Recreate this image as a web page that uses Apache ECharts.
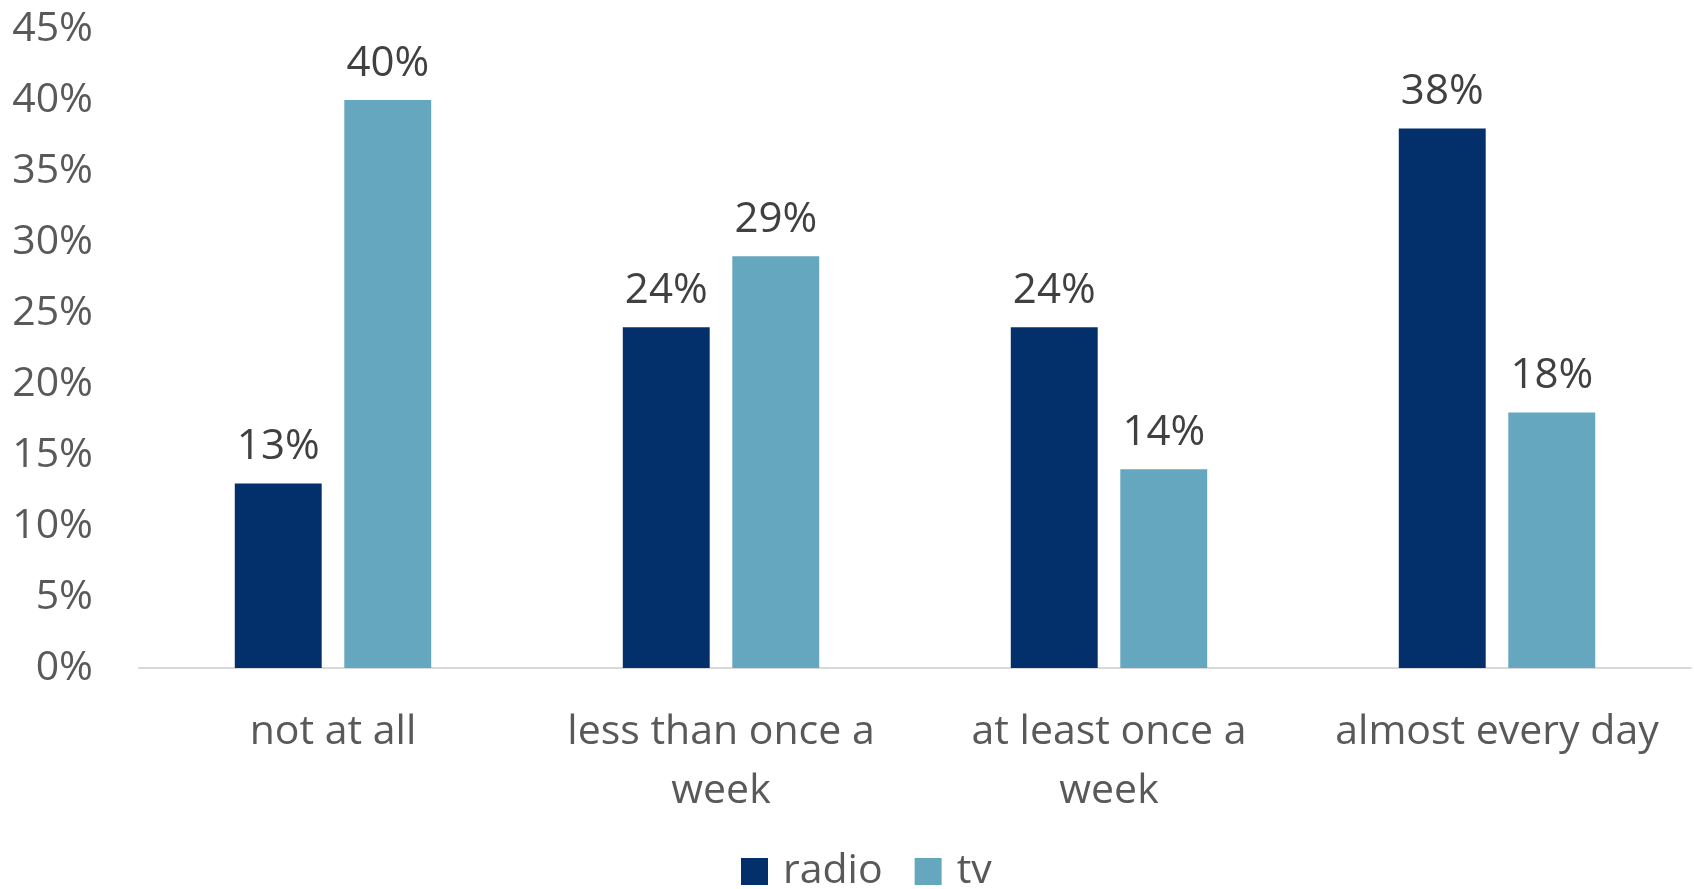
<!DOCTYPE html>
<html>
<head>
<meta charset="utf-8">
<script src="https://cdn.jsdelivr.net/npm/echarts@6/dist/echarts.min.js"></script>
<style>
html,body{margin:0;padding:0;background:#fff;}
#chart{width:1694px;height:889px;}
</style>
</head>
<body>
<div id="chart"></div>
<script>
const categories = ['not at all', 'less than once a\nweek', 'at least once a\nweek', 'almost every day'];
const radio = [13, 24, 24, 38];
const tv = [40, 29, 14, 18];
const yTicks = [0, 5, 10, 15, 20, 25, 30, 35, 40, 45];

const FONT = 'Open Sans';
const chart = echarts.init(document.getElementById('chart'), null, {renderer: 'canvas'});
const labelCfg = {
  show: true, position: 'top', distance: 15,
  formatter: p => p.value + '%',
  color: '#404040', fontFamily: FONT, fontSize: 42
};
chart.setOption({
  animation: false,
  textStyle: {fontFamily: FONT},
  grid: {left: 139, right: 3, top: 29, bottom: 221, containLabel: false},
  legend: {
    data: ['radio', 'tv'], top: 846, left: 736,
    itemWidth: 27, itemHeight: 27, itemGap: 32,
    icon: 'rect',
    textStyle: {color: '#595959', fontFamily: FONT, fontSize: 41, padding: [0, 0, 0, 10]}
  },
  xAxis: {
    type: 'category', data: categories,
    axisLine: {lineStyle: {color: '#D9D9D9', width: 2}},
    axisTick: {show: false},
    axisLabel: {color: '#595959', fontFamily: FONT, fontSize: 41, lineHeight: 59, margin: 35, interval: 0}
  },
  yAxis: {
    type: 'value', min: 0, max: 45, interval: 5,
    splitLine: {show: false},
    axisLine: {show: false}, axisTick: {show: false},
    axisLabel: {color: '#595959', fontFamily: FONT, fontSize: 41, margin: 46,
      formatter: v => yTicks.includes(v) ? v + '%' : ''}
  },
  series: [
    {name: 'radio', type: 'bar', data: radio, barWidth: '22.4%', barGap: '26%',
     itemStyle: {color: '#03306B'}, label: labelCfg},
    {name: 'tv', type: 'bar', data: tv, barWidth: '22.4%',
     itemStyle: {color: '#65A7BF'}, label: labelCfg}
  ]
});
</script>
</body>
</html>
